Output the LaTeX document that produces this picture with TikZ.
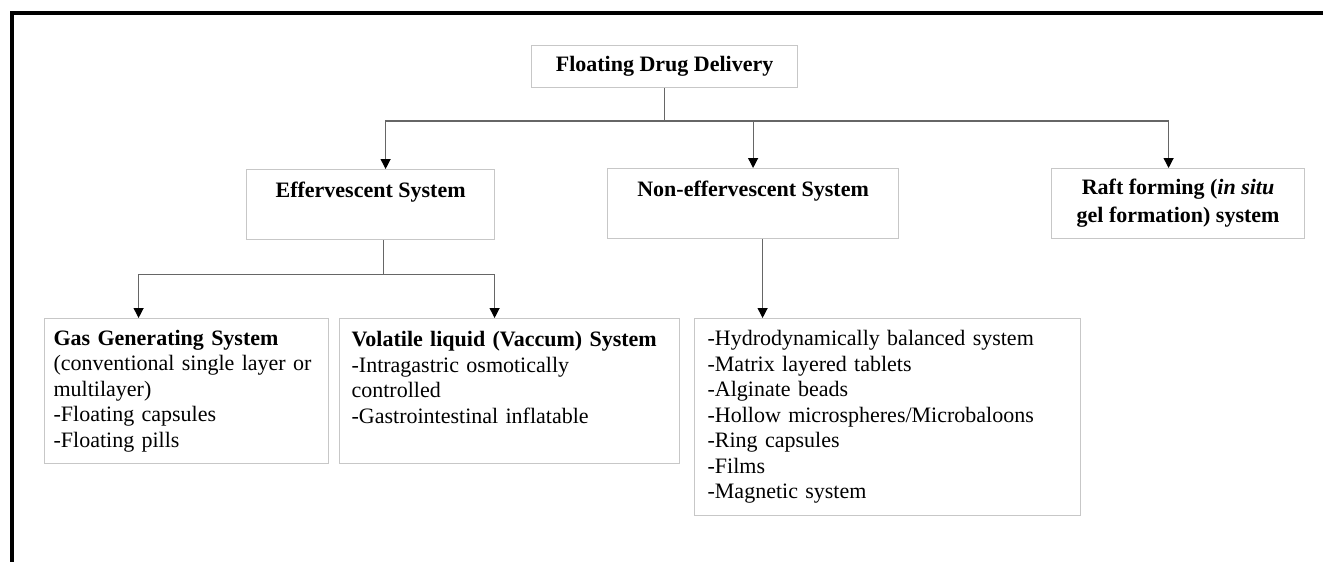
\documentclass[tikz,border=0pt]{standalone}
\usepackage{fontspec}
\setmainfont{Liberation Serif}
\usetikzlibrary{arrows.meta}

\begin{document}
\begin{tikzpicture}[x=0.5pt, y=-0.5pt,
		font=\fontsize{11}{12.75}\selectfont,
		box/.style={draw=black!22, line width=0.6pt, anchor=north west},
		headbox/.style={box, font=\fontsize{11}{12.75}\selectfont\bfseries, inner ysep=0pt, text height=14pt, text depth=21pt},
		listbox/.style={box, align=left},
		link/.style={draw=black!60, line width=0.6pt},
		arrow/.style={link, -{Triangle[width=5pt, length=5pt, color=black]}}
	]
		\useasboundingbox (0, 0) rectangle (1323, 562);
		\draw[line width=2pt] (12, 562) -- (12, 13) -- (1323, 13);

		\node[box, font=\fontsize{11}{12.75}\selectfont\bfseries, minimum width=133pt, minimum height=21pt] (fdd) at (531, 45) {Floating Drug Delivery};

		\node[headbox, minimum width=124pt] (eff) at (246, 169) {Effervescent System};
		\node[headbox, minimum width=145.5pt] (noneff) at (607, 168) {Non-effervescent System};
		\node[box, font=\fontsize{11}{12.75}\selectfont\bfseries, align=center, minimum width=126.5pt, minimum height=35pt] (raft) at (1051, 168) {Raft forming (\textit{in situ}\\[1.25pt]gel formation) system};

		\node[listbox, text width=133pt, inner xsep=4.5pt, minimum height=72.5pt] (gas) at (44, 318) {\textbf{Gas Generating System}\\\mbox{(conventional single layer or}\\multilayer)\\-Floating capsules\\-Floating pills};
		\node[listbox, text width=158pt, inner xsep=6pt, inner ysep=0pt, text height=14pt, text depth=58.5pt] (vol) at (339, 318) {\textbf{Volatile liquid (Vaccum) System}\\-Intragastric osmotically\\controlled\\-Gastrointestinal inflatable};
		\node[listbox, text width=180pt, inner xsep=6.5pt, minimum height=98.5pt] (types) at (694, 318) {-Hydrodynamically balanced system\\-Matrix layered tablets\\-Alginate beads\\-Hollow microspheres/Microbaloons\\-Ring capsules\\-Films\\-Magnetic system};

		\draw[link] (fdd.south) -- (fdd.south |- 0, 121) coordinate (fddhub);
		\draw[arrow] (fddhub) -| ([xshift=7.5pt]eff.north);
		\draw[arrow] (fddhub) -| (noneff.north);
		\draw[arrow] (fddhub) -| ([xshift=-4.75pt]raft.north);

		\draw[link] ([xshift=6.5pt]eff.south) -- ++(0, 34) coordinate (effhub);
		\draw[arrow] (effhub) -| ([xshift=-24pt]gas.north);
		\draw[arrow] (effhub) -| ([xshift=-7.5pt]vol.north);

		\draw[arrow] ([xshift=4.75pt]noneff.south) -- ([xshift=4.75pt]noneff.south |- types.north);
	\end{tikzpicture}
\end{document}
